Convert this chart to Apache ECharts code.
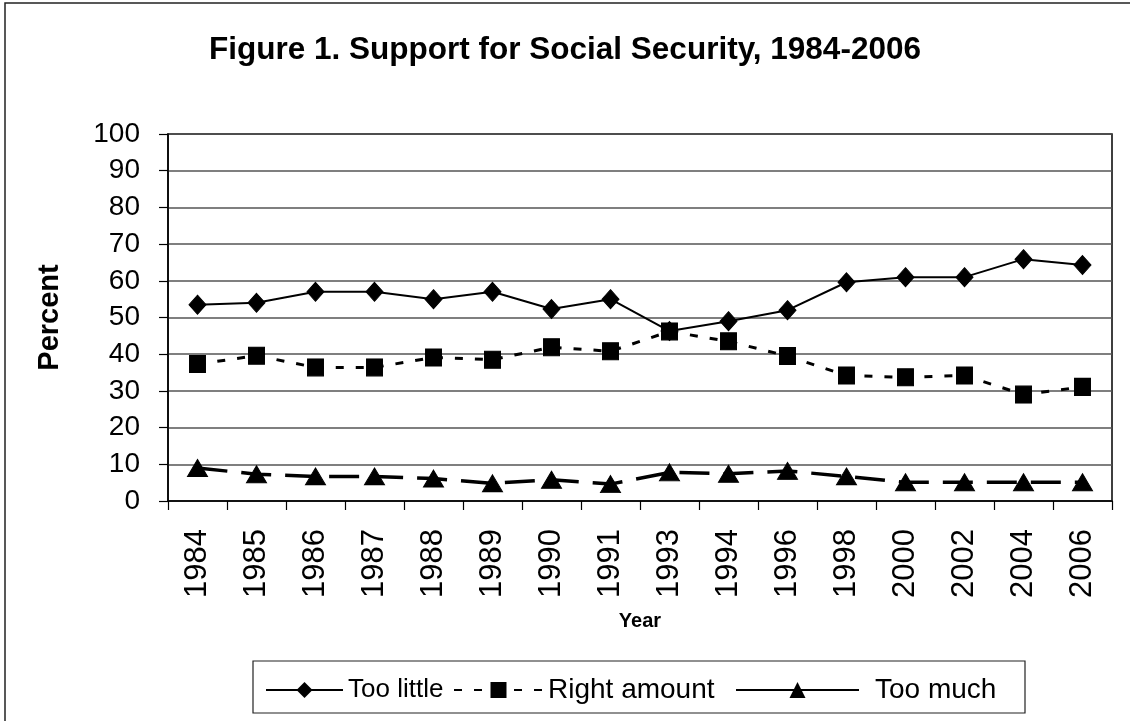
<!DOCTYPE html>
<html>
<head>
<meta charset="utf-8">
<script src="https://cdn.jsdelivr.net/npm/echarts@6/dist/echarts.min.js"></script>
<style>
html,body{margin:0;padding:0;background:#fff;}
#main{width:1130px;height:721px;}
</style>
</head>
<body>
<div id="main"></div>
<script>
var years = ['1984','1985','1986','1987','1988','1989','1990','1991','1993','1994','1996','1998','2000','2002','2004','2006'];
var tooLittle = [53.5, 54, 57, 57, 55, 57, 52.3, 55, 46.3, 49, 52, 59.6, 61, 61, 65.9, 64.3];
var rightAmount = [37.3, 39.6, 36.4, 36.4, 39.1, 38.5, 41.9, 40.8, 46.2, 43.5, 39.5, 34.2, 33.7, 34.2, 29, 31.1];
var tooMuch = [9, 7.3, 6.7, 6.7, 6.1, 4.8, 5.8, 4.6, 7.8, 7.4, 8.2, 6.7, 5.1, 5.1, 5.1, 5.1];
var yTicks = [0, 10, 20, 30, 40, 50, 60, 70, 80, 90, 100];
var seriesNames = ['Too little', 'Right amount', 'Too much'];

var chart = echarts.init(document.getElementById('main'));
var font = 'Liberation Sans, Arial, sans-serif';
chart.setOption({
  backgroundColor: '#fff',
  animation: false,
  title: {
    text: 'Figure 1. Support for Social Security, 1984-2006',
    left: 'center', top: 29,
    textStyle: {fontFamily: font, fontWeight: 'bold', fontSize: 31.5, color: '#000'}
  },
  graphic: [
    {type: 'rect', shape: {x: 5, y: 3, width: 1200, height: 800}, style: {fill: 'none', stroke: '#222', lineWidth: 1.5}, silent: true},
    {type: 'rect', shape: {x: 253, y: 661, width: 772, height: 52}, style: {fill: 'none', stroke: '#222', lineWidth: 1.2}, silent: true}
  ],
  grid: {left: 168, right: 18, top: 134, bottom: 220, show: true, borderColor: '#000', borderWidth: 1.5},
  legend: [
    {left: 260, top: 672, itemWidth: 77, itemHeight: 20,
     textStyle: {fontFamily: font, fontSize: 26, color: '#000'}, data: [seriesNames[0]]},
    {left: 448, top: 671, itemWidth: 89, itemHeight: 20,
     textStyle: {fontFamily: font, fontSize: 28, color: '#000'}, data: [seriesNames[1]]},
    {left: 730, top: 671, itemWidth: 123, itemHeight: 20,
     textStyle: {fontFamily: font, fontSize: 28, color: '#000', padding: [0, 0, 0, 11]},
     data: [{name: seriesNames[2], lineStyle: {type: 'solid'}}]}
  ],
  xAxis: {
    type: 'category', data: years, boundaryGap: true,
    name: 'Year', nameLocation: 'middle', nameGap: 110,
    nameTextStyle: {fontFamily: font, fontWeight: 'bold', fontSize: 20, color: '#000'},
    axisLine: {lineStyle: {color: '#000', width: 1.5}},
    axisTick: {show: true, length: 9, inside: false, alignWithLabel: false, lineStyle: {color: '#000', width: 1.2}},
    axisLabel: {rotate: 90, margin: 28, fontFamily: font, fontSize: 31, color: '#000'},
    splitLine: {show: false}
  },
  yAxis: {
    type: 'value', min: 0, max: 100, interval: 10,
    name: 'Percent', nameLocation: 'middle', nameGap: 104, nameRotate: 90,
    nameTextStyle: {fontFamily: font, fontWeight: 'bold', fontSize: 29, color: '#000'},
    axisLine: {show: true, lineStyle: {color: '#000', width: 1.5}},
    axisTick: {show: true, length: 9, lineStyle: {color: '#000', width: 1.2}},
    axisLabel: {margin: 28, fontFamily: font, fontSize: 28, color: '#000',
      formatter: function (v) { return yTicks.indexOf(v) >= 0 ? String(v) : ''; }},
    splitLine: {show: true, lineStyle: {color: '#555', width: 1.5}}
  },
  series: [
    {
      name: seriesNames[0], type: 'line', data: tooLittle,
      symbol: 'diamond', symbolSize: [17, 19],
      lineStyle: {color: '#000', width: 2, type: 'solid'},
      itemStyle: {color: '#000', borderColor: '#000'}
    },
    {
      name: seriesNames[1], type: 'line', data: rightAmount,
      symbol: 'rect', symbolSize: [16, 17],
      lineStyle: {color: '#000', width: 3, type: [8, 12]},
      itemStyle: {color: '#000', borderColor: '#000'}
    },
    {
      name: seriesNames[2], type: 'line', data: tooMuch,
      symbol: 'triangle', symbolSize: [20, 17],
      lineStyle: {color: '#000', width: 3.5, type: [30, 14]},
      itemStyle: {color: '#000', borderColor: '#000'}
    }
  ]
});
</script>
</body>
</html>
